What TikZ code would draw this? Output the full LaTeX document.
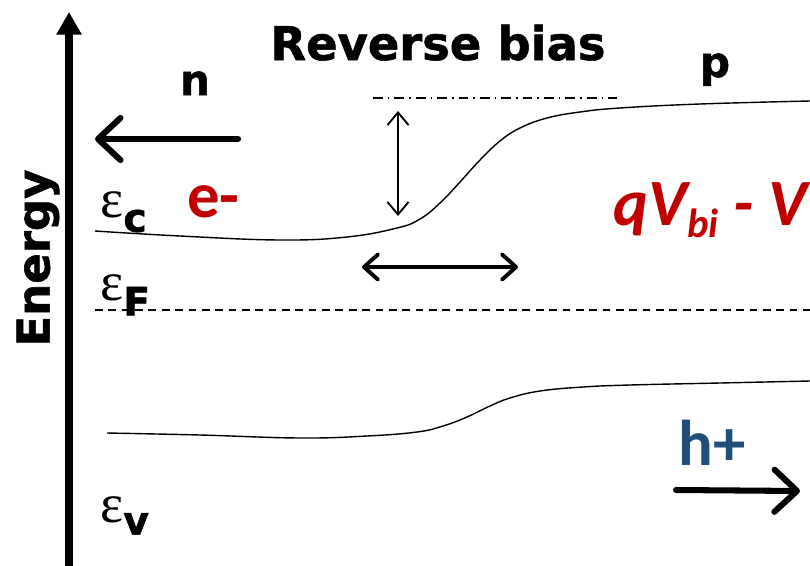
\documentclass[tikz,border=0pt]{standalone}
\usepackage{fontspec}
\setmainfont{DejaVu Sans}
\newfontfamily\heavyfont[FakeBold=1.2]{DejaVu Sans Bold}
\newfontfamily\calfont{Carlito}
\newfontfamily\symfont{Liberation Serif}
\usetikzlibrary{arrows.meta}
\definecolor{bandRed}{HTML}{C00000}
\definecolor{bandBlue}{HTML}{1F4E79}
\newcommand{\bandlabel}[2]{ε\raisebox{#2}{\heavyfont\fontsize{28}{30}\selectfont #1}}

\begin{document}
\begin{tikzpicture}[x=0.025cm, y=-0.025cm,
    heading/.style={font=\fontsize{33}{36}\heavyfont, inner sep=0pt, anchor=base},
    region/.style={font=\fontsize{30}{34}\heavyfont, inner sep=0pt, anchor=base},
    level/.style={font=\fontsize{39}{42}\symfont, inner sep=0pt, anchor=base west},
    carrier/.style={font=\fontsize{46}{50}\calfont\bfseries, inner sep=0pt, anchor=base west},
    band/.style={line width=1pt},
    axisArrow/.style={line width=5pt, -{Triangle[length=16pt, width=17pt]}},
    flowArrow/.style={line width=4.3pt, line cap=round, -{Straight Barb[length=16pt, width=30pt, round]}},
    spanArrow/.style={line width=2.8pt, {Straight Barb[length=10pt, width=18pt, round]}-{Straight Barb[length=10pt, width=18pt, round]}},
    gapArrow/.style={line width=1.3pt, {Straight Barb[length=9pt, width=15pt]}-{Straight Barb[length=9pt, width=15pt]}},
]
\useasboundingbox (0,0) rectangle (810,566);

% energy axis
\coordinate (axisLow) at (69,570);
\coordinate (axisTop) at (69,12);
\draw[axisArrow] (axisLow) -- (axisTop);
\node[font=\fontsize{32}{36}\heavyfont, rotate=90, inner sep=0pt] (energyLbl) at (38,258) {Energy};

\node[heading] (title) at (438,60) {Reverse bias};
\node[region] (nSide) at (195,95) {n};
\node[region] (pSide) at (715,77) {p};

% carrier labels
\node[carrier, text=bandRed] (elec) at (187,217) {e-};
\node[carrier, text=bandBlue] (hole) at (678,465) {h+};
\node[carrier, text=bandRed, font=\fontsize{47}{50}\calfont\bfseries\itshape] (barrier) at (613,225)
    {qV\raisebox{-9pt}{\fontsize{29}{31}\selectfont bi} - V};

% band edge labels
\node[level] (ecLbl) at (100,217) {\bandlabel{c}{-10.5pt}};
\node[level] (efLbl) at (100,300) {\bandlabel{F}{-11pt}};
\node[level] (evLbl) at (100,522) {\bandlabel{v}{-9pt}};

% bands
\draw[band] plot[smooth, tension=0.7] coordinates {(95,231) (180,236) (280,240) (347,237) (397,228) (420,219)
    (440,203) (460,182) (480,160) (500,141) (520,128) (547,118) (580,112) (620,108) (700,104) (810,101)};
\draw[band] plot[smooth, tension=0.7] coordinates {(107,433) (200,435) (300,438) (367,436) (417,432) (443,426)
    (467,417) (490,406) (510,398) (540,391) (583,387) (630,385) (720,383) (810,381)};
\draw[line width=1pt, dash pattern=on 5.5pt off 4pt] (95,310) -- (810,310);
\draw[line width=1pt, dash pattern=on 7pt off 3.5pt on 1.2pt off 3.5pt] (373,98) -- (617,98);

% arrows
\coordinate (eFrom) at (238,139);
\coordinate (eTo) at (95,139);
\draw[flowArrow] (eFrom) -- (eTo);
\coordinate (hFrom) at (676,490);
\coordinate (hTo) at (800,491);
\draw[flowArrow] (hFrom) -- (hTo);
\coordinate (wLeft) at (362,267);
\coordinate (wRight) at (518,267);
\draw[spanArrow] (wLeft) -- (wRight);
\coordinate (gTop) at (398,111);
\coordinate (gLow) at (398,216);
\draw[gapArrow] (gTop) -- (gLow);
\end{tikzpicture}
\end{document}
